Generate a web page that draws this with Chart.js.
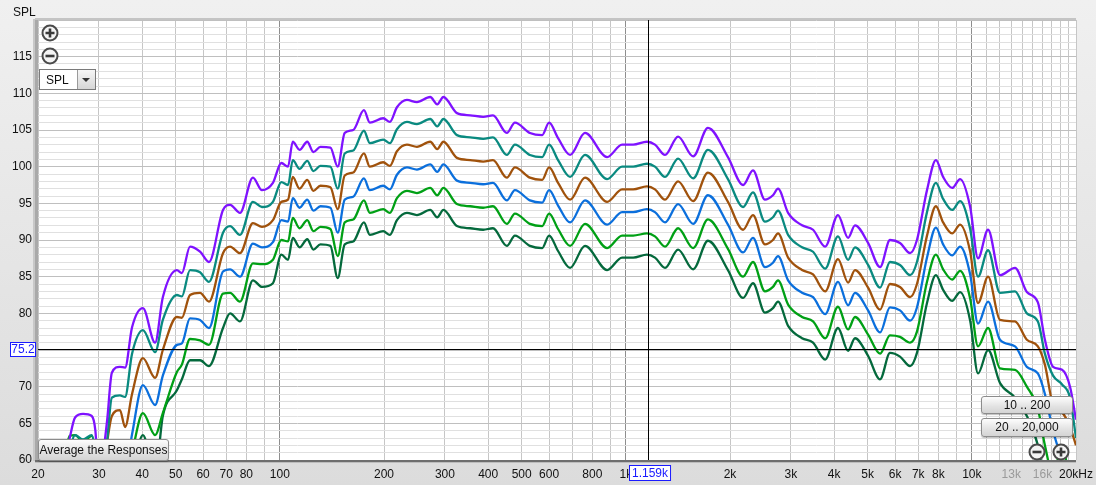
<!DOCTYPE html>
<html>
<head>
<meta charset="utf-8">
<script src="https://cdn.jsdelivr.net/npm/chart.js@4.4.1/dist/chart.umd.min.js"></script>
<style>
  body { margin: 0; background: #e4e4e4; font-family: "Liberation Sans", Arial, sans-serif; }
  #wrap { position: relative; width: 1096px; height: 485px; background: linear-gradient(#f0f0f0, #dcdcdc); overflow: hidden; }
  #chart { position: absolute; left: 0; top: 0; }
  .lbl { position: absolute; font-size: 12px; color: #111; }
  .btn {
    position: absolute; font-size: 12px; color: #111; text-align: center;
    border: 1px solid #8c8c8c; border-radius: 3px; box-sizing: border-box;
    background: linear-gradient(#fdfdfd, #e2e2e2 60%, #d4d4d4);
    box-shadow: 0 1px 1px rgba(0,0,0,0.25);
  }
  .dd { position: absolute; left: 39px; top: 69px; width: 57px; height: 21px; border: 1px solid #7a7a7a; box-sizing: border-box; background: #fff; }
  .dd span { position: absolute; left: 6px; top: 3px; font-size: 12px; color: #111; }
  .dd .arr { position: absolute; right: 0; top: 0; width: 17px; height: 19px; border-left: 1px solid #9a9a9a; background: linear-gradient(#f6f6f6, #d6d6d6); }
  svg.ic { position: absolute; }
</style>
</head>
<body>
<div id="wrap">
  <canvas id="chart" width="1096" height="485"></canvas>
  <div class="lbl" style="left:13px;top:5px">SPL</div>

  <svg class="ic" style="left:41px;top:24px" width="18" height="18" viewBox="0 0 18 18">
    <circle cx="9" cy="9" r="7.5" fill="#f4f4f4" stroke="#4a4a4a" stroke-width="2"/>
    <path d="M4.5 9h9M9 4.5v9" stroke="#3a3a3a" stroke-width="2.6"/>
  </svg>
  <svg class="ic" style="left:41px;top:47px" width="18" height="18" viewBox="0 0 18 18">
    <circle cx="9" cy="9" r="7.5" fill="#f4f4f4" stroke="#4a4a4a" stroke-width="2"/>
    <path d="M4.5 9h9" stroke="#3a3a3a" stroke-width="2.6"/>
  </svg>

  <div class="dd"><span>SPL</span><div class="arr">
    <svg width="17" height="19" viewBox="0 0 17 19"><path d="M4 8h8l-4 4z" fill="#333"/></svg>
  </div></div>

  <div class="btn" style="left:38px;top:439px;width:131px;height:22px;line-height:20px">Average the Responses</div>
  <div class="btn" style="left:981px;top:396px;width:92px;height:18px;line-height:16px">10 .. 200</div>
  <div class="btn" style="left:981px;top:418px;width:92px;height:19px;line-height:17px">20 .. 20,000</div>

  <svg class="ic" style="left:1028px;top:443px" width="18" height="18" viewBox="0 0 18 18">
    <circle cx="9" cy="9" r="7.5" fill="#f4f4f4" stroke="#4a4a4a" stroke-width="2"/>
    <path d="M4.5 9h9" stroke="#3a3a3a" stroke-width="2.6"/>
  </svg>
  <svg class="ic" style="left:1052px;top:443px" width="18" height="18" viewBox="0 0 18 18">
    <circle cx="9" cy="9" r="7.5" fill="#f4f4f4" stroke="#4a4a4a" stroke-width="2"/>
    <path d="M4.5 9h9M9 4.5v9" stroke="#3a3a3a" stroke-width="2.6"/>
  </svg>
</div>

<script>
// frequencies (Hz) shared by all six measurements
const freqs = [22, 24, 24.7, 25.6, 27, 28.6, 29.3, 30, 30.8, 31.7,
  32.7, 34.5, 35.7, 37.4, 40.2, 43.6, 45.9, 50.4, 52.1, 55,
  58.8, 62.4, 68.5, 71.8, 76.7, 83.6, 88.8, 95.5, 101, 105.6,
  109, 114, 120, 125, 131, 140, 147, 154, 163, 175,
  182, 199, 208, 218, 233, 249, 272, 285, 297, 325,
  355, 387, 413, 453, 478, 528, 573, 600, 637, 690,
  762, 883, 975, 1050, 1151, 1214, 1298, 1416, 1565, 1727,
  1973, 2182, 2330, 2524, 2662, 2753, 2944, 3230, 3476, 3767,
  4104, 4388, 4596, 5013, 5430, 5800, 6200, 6630, 6940, 7420,
  7874, 8260, 8770, 9250, 9890, 10420, 11140, 12060, 13330, 14420,
  15520, 16260, 17170, 18230, 19220, 20000];

// SPL (dB) of each trace
const purpleSpl = [54, 60, 63, 65.8, 66.3, 66, 64, 57, 60.5, 65.5,
  71.9, 72.7, 72.6, 78.1, 80.7, 76, 82.2, 85.9, 85.5, 89.1,
  88.4, 87, 94.1, 94.8, 93.7, 98.5, 96.8, 97.8, 100.5, 100,
  103.4, 102.3, 103.4, 102, 102.7, 102.6, 100, 104.6, 105, 107.7,
  106, 106.6, 106.1, 108.1, 109.1, 108.8, 109.5, 108.5, 109.5, 107.3,
  107, 106.8, 107, 104.6, 106, 104.6, 104.3, 106, 103.9, 101.6,
  104.6, 101.3, 103, 103, 103.4, 103, 101.6, 104.1, 101.4, 105.3,
  101.3, 97.5, 99.5, 95.5, 96.1, 97, 93.7, 92, 91.4, 89.1,
  93.4, 90.3, 92, 89.6, 86.3, 90, 89.6, 88.2, 90, 96.8,
  100.9, 98.6, 97.1, 98.3, 94.5, 87.5, 91.4, 85.2, 86.2, 82.9,
  81.5, 76.4, 72.7, 72.3, 70, 65.5];

const tealSpl = [54, 57, 61, 63.4, 62.8, 63.4, 61, 56, 57, 62.7,
  68.5, 68.8, 68.6, 74.5, 77.7, 74.7, 79.1, 82.5, 82.3, 85.9,
  85.6, 84.3, 91, 91.9, 90.7, 95.2, 94.5, 95.2, 97.9, 97.5,
  100.9, 99.7, 100.8, 99.4, 100.1, 100, 97, 101.8, 102.2, 104.9,
  103.2, 103.7, 103.2, 105.1, 106.1, 105.8, 106.5, 105.5, 106.5, 104.3,
  104, 103.8, 104, 101.6, 103, 101.6, 101.3, 103, 100.9, 98.6,
  101.6, 98.3, 100, 100, 100.4, 100, 98.6, 101.1, 98.4, 102.3,
  98.3, 94.5, 96.5, 92.5, 93.1, 94, 90.7, 89, 88.4, 86.1,
  90.5, 87.3, 89, 86.6, 83.5, 87, 86.6, 85.2, 87, 93.8,
  97.8, 95.6, 94.1, 95.3, 91.5, 85, 88.6, 82.8, 83, 80,
  78.9, 74.5, 71.5, 70.3, 68.5, 63];

const brownSpl = [54, 55, 57, 60.5, 61, 60.8, 58, 55, 58, 62.5,
  66, 66.8, 64.5, 69, 73.9, 71.2, 75, 79.5, 79.4, 82.5,
  82.8, 81.6, 88.2, 89.1, 88.2, 92.3, 91.8, 92.7, 95.2, 95.5,
  98.6, 97, 98.2, 96.7, 97.4, 97.2, 94.2, 98.8, 99.2, 101.8,
  100, 100.6, 100.1, 102.1, 103, 102.7, 103.4, 102.4, 103.4, 101.2,
  100.9, 100.7, 100.9, 98.5, 99.9, 98.5, 98.2, 99.9, 97.8, 95.5,
  98.5, 95.2, 96.9, 96.9, 97.3, 96.9, 95.5, 98, 95.3, 99.2,
  95.2, 91.4, 93.4, 89.4, 90, 90.9, 87.6, 85.9, 85.3, 83,
  87.4, 84.2, 85.9, 83.5, 80.5, 84, 83.6, 82.2, 84, 90.6,
  94.6, 92.4, 90.9, 92.1, 88.4, 81.4, 85, 79.1, 78.9, 76.4,
  75.5, 73, 67.5, 66.5, 64.5, 62];

const blueSpl = [55, 58, 60, 60.6, 60.4, 60.6, 59, 55, 55, 56,
  57, 59, 58, 63.5, 70.2, 67.5, 71.5, 75.7, 75.9, 79.3,
  79.1, 78, 85.7, 86, 85, 89.5, 89, 89.7, 92.7, 92.5,
  95.7, 94.4, 95.5, 94, 94.6, 94.4, 91, 95.5, 95.9, 98.4,
  96.8, 97.4, 96.9, 98.9, 99.9, 99.6, 100.3, 99.3, 100.3, 98.1,
  97.8, 97.6, 97.8, 95.4, 96.8, 95.4, 95.1, 96.8, 94.7, 92.4,
  95.4, 92.1, 93.8, 93.8, 94.2, 93.8, 92.4, 94.9, 92.2, 96.1,
  92.1, 88.3, 90.3, 86.3, 86.9, 87.8, 84.5, 82.8, 82.2, 79.9,
  84.3, 81.1, 82.8, 80.4, 77.4, 80.8, 80.4, 79, 80.8, 87.6,
  91.7, 89.4, 87.9, 89.1, 85.3, 78.6, 81.6, 76.4, 75.5, 72.7,
  71.8, 69, 64, 60, 57, 58];

const greenSpl = [56, 61, 63.3, 63.4, 62.5, 63.3, 61, 56, 55, 55,
  55, 56, 57, 61, 66.4, 63.4, 66.4, 72, 73, 76.5,
  76.3, 75.7, 82.7, 82.8, 81.6, 86.8, 86.7, 87.3, 90, 89.8,
  93, 91.6, 92.7, 91.2, 91.8, 91.5, 87.8, 92.4, 92.8, 95.4,
  93.7, 94.2, 93.7, 95.7, 96.7, 96.4, 97.1, 96.1, 97.1, 94.9,
  94.6, 94.4, 94.6, 92.2, 93.6, 92.2, 91.9, 93.6, 91.5, 89.2,
  92.2, 88.9, 90.6, 90.6, 90.9, 90.5, 89.1, 91.6, 88.9, 92.8,
  88.8, 85, 87, 83, 83.6, 84.5, 81.2, 79.5, 78.9, 76.6,
  80.9, 77.8, 79.5, 77.1, 74.5, 77, 76.8, 76, 77.5, 84.3,
  88, 86, 84.6, 85.8, 82, 75.5, 78, 72.5, 72.3, 70,
  67, 62, 58, 62, 57, 55];

const darkGreenSpl = [54, 54, 54, 54, 54, 54, 54, 54, 54, 54,
  54, 55, 55, 58, 63.4, 58, 66, 69.5, 71, 73.6,
  73.6, 72.8, 78, 80, 78.9, 84.5, 83.6, 84.1, 88, 87.3,
  90.3, 89, 90.1, 88.7, 89.4, 89.2, 84.8, 89.4, 89.8, 92.4,
  90.7, 91.2, 90.7, 92.7, 93.7, 93.4, 94.1, 93.1, 94.1, 91.9,
  91.6, 91.4, 91.6, 89.2, 90.6, 89.2, 88.9, 90.6, 88.5, 86.2,
  89.2, 85.9, 87.6, 87.6, 88, 87.6, 86.2, 88.7, 86, 89.9,
  85.9, 82.1, 84.1, 80.1, 80.7, 81.6, 78.3, 76.6, 76, 73.7,
  78, 74.9, 76.6, 74.2, 71, 74.6, 74.1, 72.8, 74.6, 81.4,
  85.2, 83.2, 81.7, 82.9, 79, 71.8, 75, 70.5, 68.5, 66,
  62, 57, 55, 55, 55, 55];

// axis ticks
const xGridValues = [20, 30, 40, 50, 60, 70, 80, 90,
  100, 200, 300, 400, 500, 600, 700, 800, 900,
  1000, 2000, 3000, 4000, 5000, 6000, 7000, 8000, 9000,
  10000, 11000, 12000, 13000, 14000, 15000, 16000, 17000, 18000, 19000, 20000];
const xLabelValues = [20, 30, 40, 50, 60, 70, 80, 100, 200, 300, 400, 500, 600, 800,
  1000, 2000, 3000, 4000, 5000, 6000, 7000, 8000, 10000, 13000, 16000, 20000];
const xLabelNames = ['20', '30', '40', '50', '60', '70', '80', '100', '200', '300', '400', '500', '600', '800',
  '1k', '2k', '3k', '4k', '5k', '6k', '7k', '8k', '10k', '13k', '16k', '20kHz'];
const xFadedLabels = [13000, 16000];

// cursor readout
const cursorFreq = 1159;
const cursorSpl = 75.2;
const cursorFreqText = '1.159k';
const cursorSplText = '75.2';

const traces = [
  { name: 'purple', values: purpleSpl, color: '#7f12ff' },
  { name: 'teal', values: tealSpl, color: '#0a8a80' },
  { name: 'brown', values: brownSpl, color: '#a0520c' },
  { name: 'blue', values: blueSpl, color: '#0b6fdc' },
  { name: 'green', values: greenSpl, color: '#00a015' },
  { name: 'dark green', values: darkGreenSpl, color: '#04693c' }
];

const FONT = { family: '"Liberation Sans", Arial, sans-serif', size: 12 };

const framePlugin = {
  id: 'frame',
  beforeDraw(chart) {
    const a = chart.chartArea;
    const ctx = chart.ctx;
    ctx.save();
    ctx.fillStyle = '#ffffff';
    ctx.fillRect(a.left, a.top, a.right - a.left, a.bottom - a.top);
    ctx.restore();
  },
  afterDraw(chart) {
    const a = chart.chartArea;
    const ctx = chart.ctx;
    const xs = chart.scales.x;
    const ys = chart.scales.y;
    const cx = Math.round(xs.getPixelForValue(cursorFreq)) + 0.5;
    const cy = Math.round(ys.getPixelForValue(cursorSpl)) + 0.5;
    ctx.save();
    // cursor lines
    ctx.strokeStyle = '#000';
    ctx.lineWidth = 1;
    ctx.beginPath();
    ctx.moveTo(a.left, cy); ctx.lineTo(a.right, cy);
    ctx.moveTo(cx, a.top); ctx.lineTo(cx, a.bottom);
    ctx.stroke();
    // frame edges
    ctx.fillStyle = '#a9a9a9';
    ctx.fillRect(a.left - 3, a.top - 1, 3, a.bottom - a.top + 2);
    ctx.fillStyle = '#c8c8c8';
    ctx.fillRect(a.left - 5, a.top - 1, 2, a.bottom - a.top + 2);
    ctx.fillStyle = '#c4c4c4';
    ctx.fillRect(a.left - 3, a.top - 2, a.right - a.left + 3, 2);
    ctx.fillStyle = '#6e6e6e';
    ctx.fillRect(a.left - 3, a.bottom, a.right - a.left + 3, 2);
    ctx.fillStyle = '#bdbdbd';
    ctx.fillRect(a.left - 3, a.bottom + 2, a.right - a.left + 3, 1);
    // readout boxes
    ctx.font = '12px "Liberation Sans", Arial, sans-serif';
    ctx.textBaseline = 'middle';
    ctx.textAlign = 'center';
    const bw = 26;
    ctx.fillStyle = '#fff';
    ctx.fillRect(10, cy - 7.5, bw, 15);
    ctx.strokeStyle = '#1a1aff';
    ctx.strokeRect(10.5, cy - 7, bw - 1, 14);
    ctx.fillStyle = '#1a1aff';
    ctx.fillText(cursorSplText, 10 + bw / 2, cy + 0.5);
    const fw = ctx.measureText(cursorFreqText).width + 6;
    const fx = Math.round(cx - 20);
    ctx.fillStyle = '#fff';
    ctx.fillRect(fx, a.bottom + 5, fw, 16);
    ctx.strokeStyle = '#1a1aff';
    ctx.strokeRect(fx + 0.5, a.bottom + 5.5, fw - 1, 15);
    ctx.fillStyle = '#1a1aff';
    ctx.fillText(cursorFreqText, fx + fw / 2, a.bottom + 13.5);
    ctx.restore();
  }
};

new Chart(document.getElementById('chart'), {
  type: 'line',
  data: {
    datasets: traces.map(t => ({
      label: t.name,
      data: freqs.map((f, i) => ({ x: f, y: t.values[i] })),
      borderColor: t.color,
      borderWidth: 2.3,
      pointRadius: 0,
      cubicInterpolationMode: 'monotone',
      fill: false
    }))
  },
  options: {
    responsive: false,
    animation: false,
    devicePixelRatio: 1,
    layout: { padding: { top: 20, right: 20, left: 0, bottom: 0 } },
    plugins: { legend: { display: false }, tooltip: { enabled: false } },
    scales: {
      x: {
        type: 'logarithmic',
        min: 20,
        max: 20000,
        afterBuildTicks: s => { s.ticks = xGridValues.map(v => ({ value: v })); },
        afterFit: s => { s.height = 25; s.paddingLeft = 0; s.paddingRight = 0; },
        border: { display: false },
        grid: {
          drawTicks: false,
          color: c => [100, 1000, 10000].includes(c.tick && c.tick.value) ? '#8e8e8e' : '#c6c6c6'
        },
        ticks: {
          autoSkip: false,
          maxRotation: 0,
          padding: 7,
          font: FONT,
          color: c => xFadedLabels.includes(c.tick && c.tick.value) ? '#9a9a9a' : '#111',
          callback: v => {
            const i = xLabelValues.indexOf(v);
            return i >= 0 ? xLabelNames[i] : '';
          }
        }
      },
      y: {
        type: 'linear',
        min: 60,
        max: 120,
        afterFit: s => { s.width = 38; s.paddingTop = 0; s.paddingBottom = 0; },
        border: { display: false },
        grid: {
          drawTicks: false,
          color: c => (c.tick && c.tick.value % 5 === 0) ? '#bfbfbf' : '#e0e0e0'
        },
        ticks: {
          stepSize: 1,
          maxTicksLimit: 100,
          autoSkip: false,
          padding: 6,
          font: FONT,
          color: '#111',
          callback: v => (v % 5 === 0 && v < 120) ? String(v) : ''
        }
      }
    }
  },
  plugins: [framePlugin]
});
</script>
</body>
</html>
